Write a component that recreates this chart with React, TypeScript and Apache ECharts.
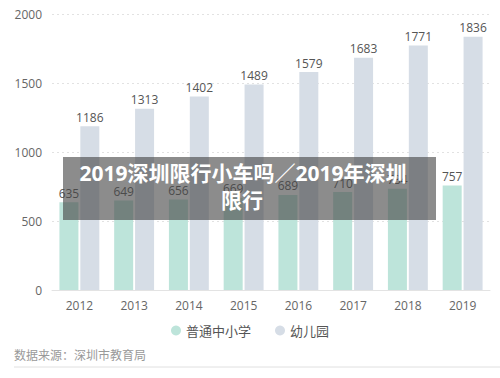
import React, { useEffect, useRef } from "react";
import * as echarts from "echarts";

const years = ["2012", "2013", "2014", "2015", "2016", "2017", "2018", "2019"];
const schools = [635, 649, 656, 669, 689, 710, 734, 757];
const kindergartens = [1186, 1313, 1402, 1489, 1579, 1683, 1771, 1836];
const seriesNames = ["普通中小学", "幼儿园"];
const yTicks = { min: 0, max: 2000, interval: 500 };
const sourceText = "数据来源：深圳市教育局";
const bannerLines = ["2019深圳限行小车吗／2019年深圳", "限行"];

const FONT = "'Open Sans', 'Noto Sans CJK SC', sans-serif";

export default function App() {
  const ref = useRef<HTMLDivElement>(null);
  useEffect(() => {
    if (!ref.current) return;
    const chart = echarts.init(ref.current, null, { renderer: "svg" });
    chart.setOption({
      animation: false,
      textStyle: { fontFamily: FONT },
      grid: { left: 52, right: 10, top: 14, bottom: 88 },
      legend: {
        bottom: 36,
        left: "center",
        icon: "circle",
        itemWidth: 10,
        itemHeight: 10,
        itemGap: 24,
        textStyle: { color: "#555", fontSize: 13, fontFamily: FONT },
        data: seriesNames,
      },
      xAxis: {
        type: "category",
        data: years,
        axisLine: { lineStyle: { color: "#e3e3e3", width: 1 } },
        axisTick: { show: false },
        axisLabel: { color: "#666", fontSize: 12, margin: 9 },
      },
      yAxis: {
        type: "value",
        min: yTicks.min,
        max: yTicks.max,
        interval: yTicks.interval,
        axisLine: { show: false },
        axisTick: { show: false },
        axisLabel: { color: "#666", fontSize: 12, margin: 10, formatter: (v: number) => String(v) },
        splitLine: { lineStyle: { color: "#e2e2e2", type: [2, 3] } },
      },
      series: [
        {
          name: seriesNames[0],
          type: "bar",
          data: schools,
          barWidth: 19,
          barGap: "10%",
          itemStyle: { color: "#bde4da" },
          label: { show: true, position: "top", color: "#555", fontSize: 12, distance: 3 },
        },
        {
          name: seriesNames[1],
          type: "bar",
          data: kindergartens,
          barWidth: 19,
          itemStyle: { color: "#d6dde6" },
          label: { show: true, position: "top", color: "#555", fontSize: 12, distance: 3 },
        },
      ],
      graphic: [
        {
          type: "text",
          left: 14,
          top: 349,
          style: { text: sourceText, fill: "#999", fontSize: 12, fontFamily: FONT },
        },
        {
          type: "line",
          shape: { x1: 14, y1: 367, x2: 500, y2: 367 },
          style: { stroke: "#e0e0e0", lineWidth: 1 },
        },
        {
          type: "rect",
          shape: { x: 63, y: 157, width: 373, height: 63 },
          style: { fill: "rgba(70,70,70,0.62)" },
          z: 100,
        },
        {
          type: "text",
          x: 243,
          y: 173,
          z: 101,
          style: {
            text: bannerLines[0],
            fill: "#fff",
            fontSize: 21,
            fontWeight: "bold",
            fontFamily: FONT,
            align: "center",
            verticalAlign: "middle",
          },
        },
        {
          type: "text",
          x: 242,
          y: 200,
          z: 101,
          style: {
            text: bannerLines[1],
            fill: "#fff",
            fontSize: 21,
            fontWeight: "bold",
            fontFamily: FONT,
            align: "center",
            verticalAlign: "middle",
          },
        },
      ],
    });
    return () => chart.dispose();
  }, []);
  return <div ref={ref} style={{ width: 500, height: 378, position: "absolute", left: 0, top: 0 }} />;
}
